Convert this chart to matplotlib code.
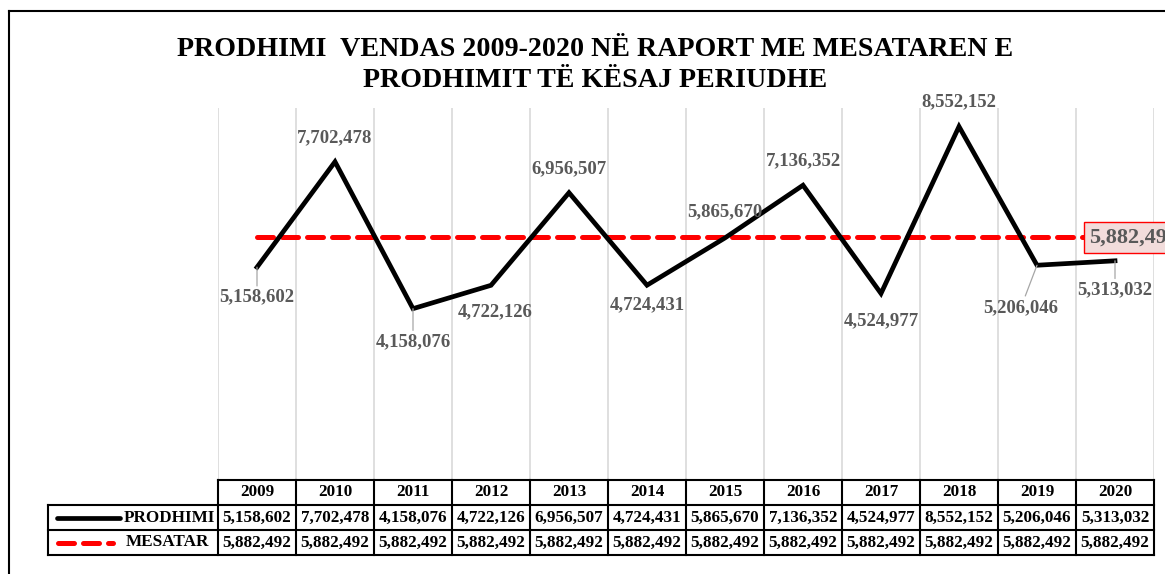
import matplotlib
matplotlib.use("Agg")
import matplotlib.pyplot as plt
from matplotlib.lines import Line2D

# data
years = ["2009", "2010", "2011", "2012", "2013", "2014",
         "2015", "2016", "2017", "2018", "2019", "2020"]
prodhimi = [5158602, 7702478, 4158076, 4722126, 6956507, 4724431,
            5865670, 7136352, 4524977, 8552152, 5206046, 5313032]
mesatar = [5882492] * 12

# label offsets in pixels (dx, dy) and whether a leader line is drawn
label_offsets = [(0, -30), (0, 24), (0, -33), (4, -26), (0, 24), (0, -20),
                 (0, 26), (0, 25), (0, -27), (0, 25), (-16, -42), (0, -29)]
leaders = [True, False, True, False, False, False,
           False, False, False, False, True, True]

W, H = 1165, 574
serif = "Liberation Serif"
grey = "#595959"

fig = plt.figure(figsize=(W / 100, H / 100), dpi=100)

# frame of the chart area
fig.add_artist(Line2D([9 / W, 1], [1 - 11 / H, 1 - 11 / H], color="black", lw=1.5))
fig.add_artist(Line2D([9 / W, 9 / W], [0, 1 - 11 / H], color="black", lw=1.5))

fig.text(595 / W, 1 - 65 / H,
         "PRODHIMI  VENDAS 2009-2020 NË RAPORT ME MESATAREN E\nPRODHIMIT TË KËSAJ PERIUDHE",
         ha="center", va="center", fontsize=20.2, fontweight="bold",
         family=serif, linespacing=1.32)

# main plot
ax = fig.add_axes([218 / W, 1 - 481 / H, 936 / W, 373 / H])
ax.set_xlim(-0.5, 11.5)
ax.set_ylim(0, 9000000)
ax.axis("off")
for i in range(13):
    ax.axvline(i - 0.5, color="#D9D9D9", lw=1.2, zorder=0)

x = list(range(len(years)))
ax.plot(x, prodhimi, color="black", lw=3.4, solid_joinstyle="miter", zorder=3)
ax.plot(x, mesatar, color="#FF0000", lw=3.6, dashes=(3.2, 1.8),
        dash_capstyle="round", zorder=2)

for i, v in enumerate(prodhimi):
    dx, dy = label_offsets[i]
    props = None
    if leaders[i]:
        props = dict(arrowstyle="-", color="#A6A6A6", lw=0.9, shrinkA=0, shrinkB=0)
    ax.annotate(f"{v:,}", (i, v), xytext=(dx, dy), textcoords="offset pixels",
                ha="center", va="center", fontsize=13.5, fontweight="bold",
                color=grey, family=serif, arrowprops=props, zorder=4,
                annotation_clip=False)

# mean label sits at the right edge and runs off it, as in the original
ax.text(10.67, mesatar[-1], f"{mesatar[-1]:,}", ha="left", va="center",
        fontsize=16, fontweight="bold", color=grey, family=serif, zorder=5,
        clip_on=False,
        bbox=dict(boxstyle="square,pad=0.25", facecolor="#F2DCDB", edgecolor="#FF0000", lw=1))

# data table
col_w = 78
xl = -0.5 - 170 / col_w
tb = fig.add_axes([48 / W, 1 - 555 / H, (1154 - 48) / W, 75 / H])
tb.set_xlim(xl, 11.5)
tb.set_ylim(0, 3)
tb.axis("off")

lk = dict(color="black", lw=1.5, clip_on=False)
tb.plot([-0.5, 11.5], [3, 3], **lk)
for yy in (2, 1, 0):
    tb.plot([xl, 11.5], [yy, yy], **lk)
for i in range(13):
    tb.plot([i - 0.5, i - 0.5], [0, 3], **lk)
tb.plot([xl, xl], [0, 2], **lk)

tfont = dict(ha="center", va="center", fontsize=12.3, fontweight="bold", family=serif)
for i, yr in enumerate(years):
    tb.text(i, 2.5, yr, **tfont)
    tb.text(i, 1.5, f"{prodhimi[i]:,}", **tfont)
    tb.text(i, 0.5, f"{mesatar[i]:,}", **tfont)


def px(p):
    return -0.5 + (p - 218) / col_w


tb.plot([px(57), px(120)], [1.5, 1.5], color="black", lw=3.4,
        solid_capstyle="round", clip_on=False)
tb.plot([px(58), px(113)], [0.5, 0.5], color="#FF0000", lw=3.6,
        dashes=(3.2, 1.8), dash_capstyle="round", clip_on=False)
tb.text(px(124), 1.5, "PRODHIMI", ha="left", va="center", fontsize=12.3,
        fontweight="bold", family=serif)
tb.text(px(126), 0.5, "MESATAR", ha="left", va="center", fontsize=12.3,
        fontweight="bold", family=serif)

fig.savefig("out.png", dpi=100)
